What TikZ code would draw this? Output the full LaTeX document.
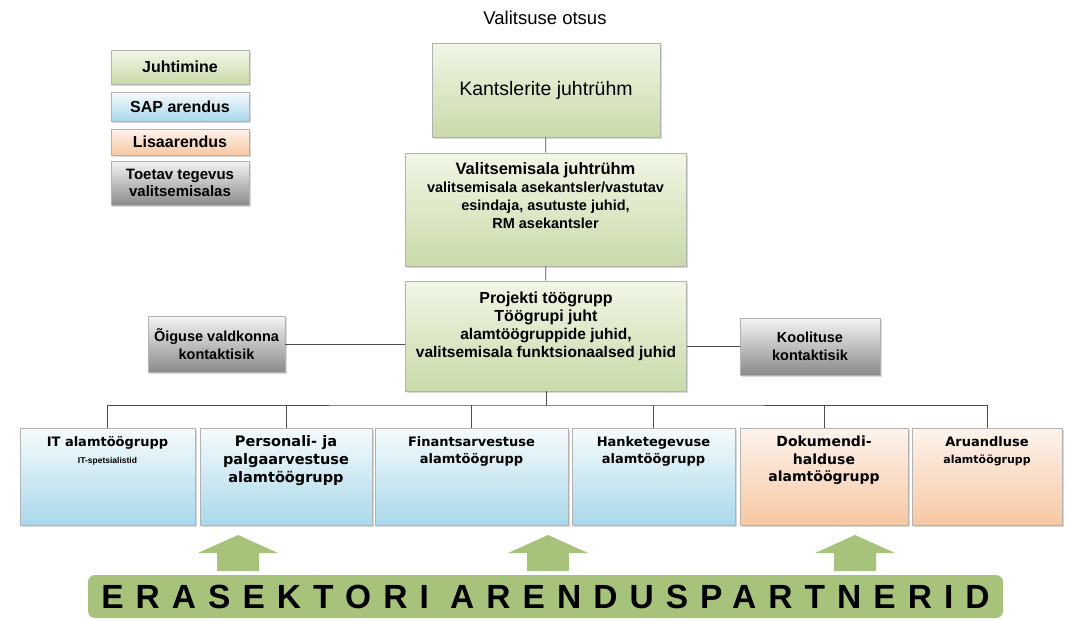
\documentclass[tikz,border=0pt]{standalone}
\usepackage{fontspec}
\setmainfont{Liberation Sans}
\newfontfamily\widefont{DejaVu Sans}
\usetikzlibrary{shadows}

\definecolor{juhtTop}{HTML}{F1F6E6}
\definecolor{juhtBot}{HTML}{C9DAA9}
\definecolor{sapTop}{HTML}{F6FBFD}
\definecolor{sapBot}{HTML}{A9D8EA}
\definecolor{lisaTop}{HTML}{FDF3EC}
\definecolor{lisaBot}{HTML}{F7C8A3}
\definecolor{toetTop}{HTML}{F4F4F4}
\definecolor{toetBot}{HTML}{8A8A8A}
\definecolor{partner}{HTML}{A7C37B}

\tikzset{
  wh/.style 2 args={minimum width=#1, minimum height=#2},
  box/.style={draw=black!30, line width=0.6pt, inner sep=2pt, align=center,
    font=\bfseries\fontsize{16}{17}\selectfont,
    drop shadow={shadow xshift=1.5pt, shadow yshift=-2pt, opacity=0.3}},
  juht/.style={box, top color=juhtTop, bottom color=juhtBot},
  sap/.style={box, top color=sapTop, bottom color=sapBot},
  lisa/.style={box, top color=lisaTop, bottom color=lisaBot},
  toetav/.style={box, top color=toetTop, bottom color=toetBot},
  boxtext/.style={anchor=north, align=center, inner sep=0pt,
    font=\bfseries\fontsize{14.5}{18}\selectfont},
  subtext/.style={boxtext, font=\widefont\bfseries\fontsize{13}{16.5}\selectfont},
  conn/.style={draw=black!70, line width=0.8pt},
}

\begin{document}
\begin{tikzpicture}[x=1pt, y=-1pt]
\useasboundingbox[fill=white] (0,0) rectangle (1070,619);

% legend
\node[juht, wh={138}{34}] (leg1) at (180,67) {Juhtimine};
\node[sap, wh={138}{29}] (leg2) at (180,106.5) {SAP arendus};
\node[lisa, wh={138}{26}] (leg3) at (180,142) {Lisaarendus};
\node[toetav, wh={138}{44}, font=\bfseries\fontsize{15}{17}\selectfont] (leg4) at (180,183) {Toetav tegevus\\valitsemisalas};

% juhtimine
\node[font=\fontsize{18.5}{20}\selectfont] (otsus) at (545,18) {Valitsuse otsus};
\node[juht, wh={228}{94}, font=\fontsize{19.5}{21}\selectfont] (kants) at (546,90) {Kantslerite juhtrühm};
\node[juht, wh={281}{113}] (vali) at (545.5,209.5) {};
\node[boxtext] (vali-t) at ([yshift=-10pt]vali.north)
  {{\fontsize{16.5}{18}\selectfont Valitsemisala juhtrühm}\\
   valitsemisala asekantsler/vastutav\\esindaja, asutuste juhid,\\RM asekantsler};
\node[juht, wh={281}{110}] (proj) at (546,336) {};
\node[boxtext, font=\bfseries\fontsize{15.5}{18}\selectfont] (proj-t) at ([yshift=-11pt]proj.north)
  {{\fontsize{16}{18}\selectfont Projekti töögrupp}\\
   {\fontsize{16}{18}\selectfont Töögrupi juht}\\
   alamtöögruppide juhid,\\valitsemisala funktsionaalsed juhid};

% kontaktisikud
\node[toetav, wh={137}{56}, font=\bfseries\fontsize{14.5}{17.5}\selectfont] (oig) at (216.5,344) {Õiguse valdkonna\\kontaktisik};
\node[toetav, wh={140}{57}, font=\bfseries\fontsize{14.5}{17.5}\selectfont] (kool) at (810,346.5) {Koolituse\\kontaktisik};

% alamtöögrupid
\node[sap, wh={175}{97}] (it) at (107.5,476.5) {};
\node[sap, wh={172}{97}] (pers) at (286,476.5) {};
\node[sap, wh={193}{97}] (fin) at (471.5,476.5) {};
\node[sap, wh={163}{97}] (hanke) at (653.5,476.5) {};
\node[lisa, wh={168}{97}] (dok) at (824,476.5) {};
\node[lisa, wh={150}{97}] (aru) at (987,476.5) {};

\node[subtext] (it-t) at ([yshift=-9pt]it.north)
  {IT alamtöögrupp\\{\rmfamily\bfseries\fontsize{8.5}{11}\selectfont IT-spetsialistid}};
\node[subtext, font=\widefont\bfseries\fontsize{14.5}{18}\selectfont] (pers-t) at ([yshift=-8pt]pers.north) {Personali- ja\\palgaarvestuse\\alamtöögrupp};
\node[subtext] (fin-t) at ([yshift=-9pt]fin.north) {Finantsarvestuse\\alamtöögrupp};
\node[subtext] (hanke-t) at ([yshift=-9pt]hanke.north) {Hanketegevuse\\alamtöögrupp};
\node[subtext, font=\widefont\bfseries\fontsize{14}{17.5}\selectfont] (dok-t) at ([yshift=-8pt]dok.north) {Dokumendi-\\halduse\\alamtöögrupp};
\node[subtext] (aru-t) at ([yshift=-9pt]aru.north)
  {Aruandluse\\{\fontsize{11}{14}\selectfont alamtöögrupp}};

% ühendused
\draw[conn] (kants) -- (vali);
\draw[conn] (vali) -- (proj);
\draw[conn] (oig.east) -- (oig.east -| proj.west);
\draw[conn] (kool.west) -- (kool.west -| proj.east);
\coordinate (bus) at (546,405);
\draw[conn] (proj.south) -- (bus);
\draw[conn] (it.north) |- (bus) -| (aru.north);
\foreach \b in {pers,fin,hanke,dok}
  \draw[conn] (\b.north) -- (\b.north |- bus);

% erasektor
\foreach \x in {238,548,855}
  \fill[partner] (\x-40,553) -- (\x,535) -- (\x+40,553) -- (\x+21,553)
    -- (\x+21,571) -- (\x-21,571) -- (\x-21,553) -- cycle;
\node[fill=partner, rounded corners=7pt, wh={915}{43}, inner sep=0pt,
  font=\bfseries\fontsize{33.5}{33.5}\selectfont\addfontfeatures{LetterSpace=36}] (partnerid) at (545.5,596.5)
  {ERASEKTORI ARENDUSPARTNERID};
\end{tikzpicture}
\end{document}
